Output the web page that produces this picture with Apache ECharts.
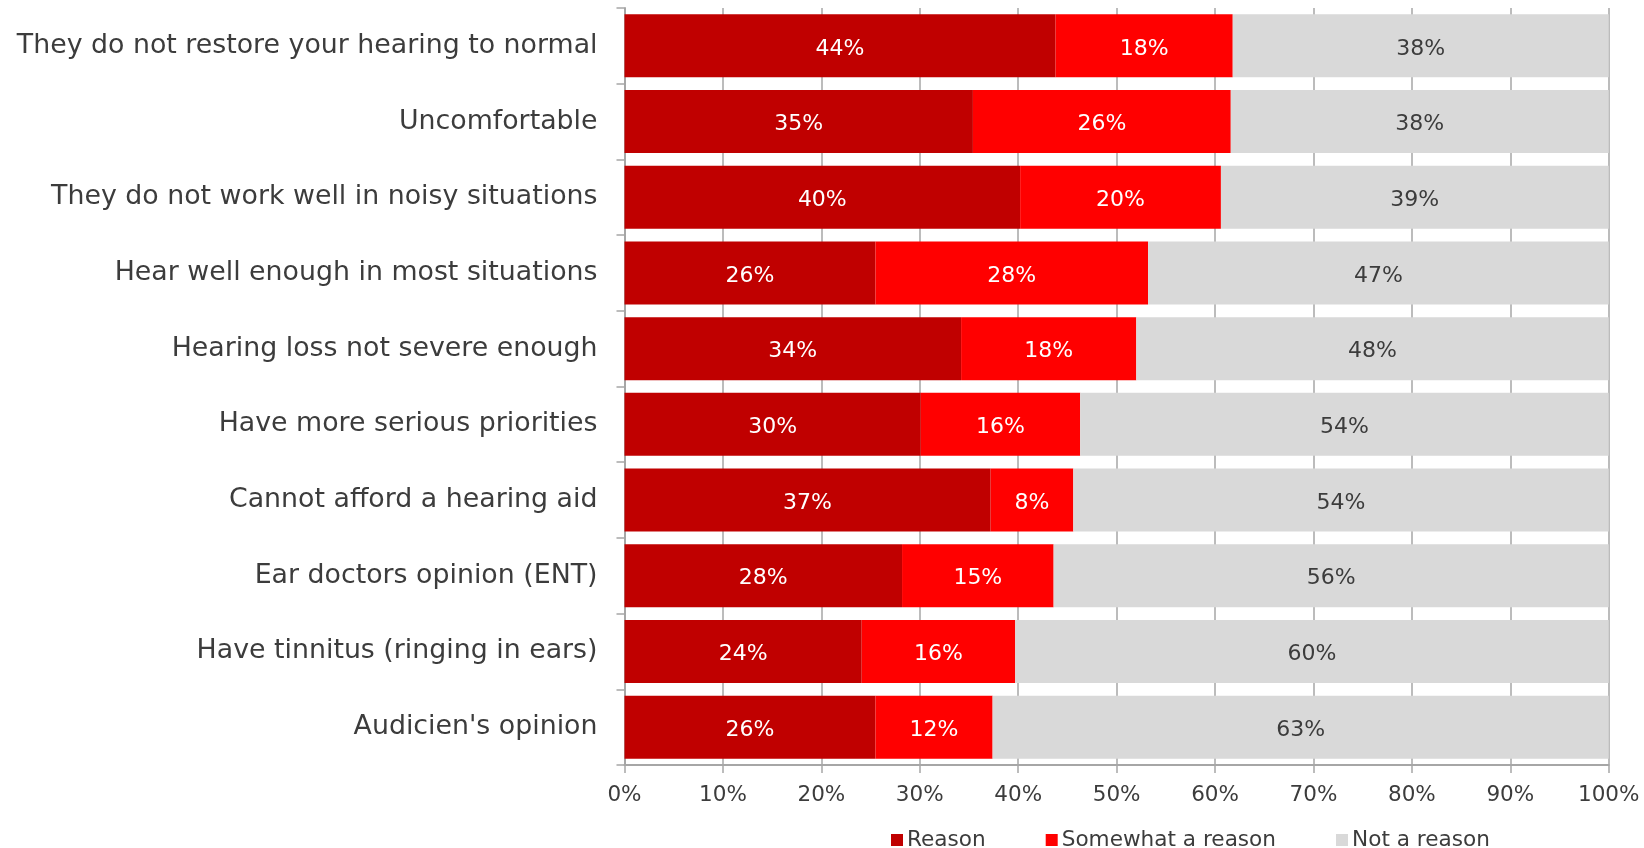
<!DOCTYPE html>
<html>
<head>
<meta charset="utf-8">
<script src="https://cdn.jsdelivr.net/npm/echarts@6/dist/echarts.min.js"></script>
<style>
html,body{margin:0;padding:0;background:#fff;}
#chart{width:1644px;height:848px;}
</style>
</head>
<body>
<div id="chart"></div>
<script>
const categories = [
  "They do not restore your hearing to normal",
  "Uncomfortable",
  "They do not work well in noisy situations",
  "Hear well enough in most situations",
  "Hearing loss not severe enough",
  "Have more serious priorities",
  "Cannot afford a hearing aid",
  "Ear doctors opinion (ENT)",
  "Have tinnitus (ringing in ears)",
  "Audicien's opinion"
];
const reason =        [43.8, 35.4, 40.2, 25.5, 34.2, 30.1, 37.2, 28.2, 24.1, 25.5];
const somewhat =      [18.0, 26.2, 20.4, 27.7, 17.8, 16.2, 8.4, 15.4, 15.6, 11.9];
const notReason =     [38.2, 38.4, 39.4, 46.8, 48.0, 53.7, 54.4, 56.4, 60.3, 62.6];
const seriesNames = ["Reason", "Somewhat a reason", "Not a reason"];
const xTicks = [0, 10, 20, 30, 40, 50, 60, 70, 80, 90, 100];

const FONT = "DejaVu Sans";
const TXT = "#3c3c3c";
const AXIS = "#a6a6a6";

const chart = echarts.init(document.getElementById('chart'), null, {renderer: 'canvas'});

function mkSeries(name, data, color, labelColor) {
  return {
    name: name,
    type: 'bar',
    stack: 'total',
    data: data,
    barWidth: 63,
    itemStyle: {color: color},
    label: {
      show: true,
      position: 'inside',
      offset: [0, 3],
      color: labelColor,
      fontFamily: FONT,
      fontSize: 22,
      formatter: p => Math.round(p.value) + '%'
    },
    emphasis: {disabled: true}
  };
}

chart.setOption({
  animation: false,
  backgroundColor: '#fff',
  grid: {left: 624.5, right: 35.3, top: 8, bottom: 83, containLabel: false},
  legend: {
    data: seriesNames,
    left: 886,
    top: 824,
    icon: 'rect',
    itemWidth: 12,
    itemHeight: 12,
    itemGap: 60,
    textStyle: {fontFamily: FONT, fontSize: 21.6, color: TXT, padding: [0, 0, 0, -1]}
  },
  xAxis: {
    type: 'value',
    min: xTicks[0],
    max: xTicks[xTicks.length - 1],
    interval: xTicks[1] - xTicks[0],
    axisLine: {show: true, lineStyle: {color: AXIS, width: 2}},
    axisTick: {show: true, length: 8, lineStyle: {color: AXIS, width: 1.5}},
    splitLine: {show: true, lineStyle: {color: AXIS, width: 1.5}},
    axisLabel: {
      margin: 19,
      fontFamily: FONT,
      fontSize: 21.5,
      color: TXT,
      formatter: v => v + '%'
    }
  },
  yAxis: {
    type: 'category',
    data: categories,
    inverse: true,
    axisLine: {show: true, lineStyle: {color: AXIS, width: 2}},
    axisTick: {show: true, length: 8, lineStyle: {color: AXIS, width: 1.5}},
    axisLabel: {
      margin: 27,
      fontFamily: FONT,
      fontSize: 26.8,
      color: TXT
    }
  },
  series: [
    mkSeries(seriesNames[0], reason, '#C00000', '#ffffff'),
    mkSeries(seriesNames[1], somewhat, '#FF0000', '#ffffff'),
    mkSeries(seriesNames[2], notReason, '#D9D9D9', TXT)
  ]
});
</script>
</body>
</html>
